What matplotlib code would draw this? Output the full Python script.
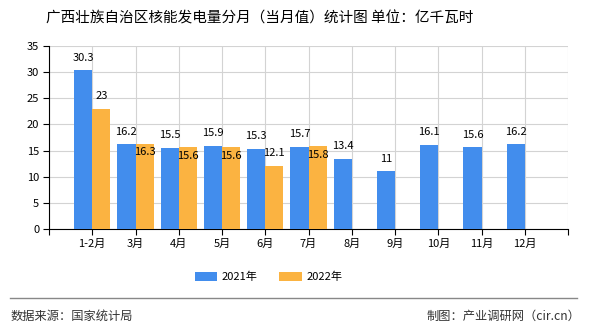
import matplotlib
matplotlib.use("Agg")
import matplotlib.pyplot as plt
import numpy as np

plt.rcParams['font.family'] = ['Noto Sans CJK SC', 'DejaVu Sans']

# data
months = ["1-2月", "3月", "4月", "5月", "6月", "7月", "8月", "9月", "10月", "11月", "12月"]
v2021 = [30.3, 16.2, 15.5, 15.9, 15.3, 15.7, 13.4, 11, 16.1, 15.6, 16.2]
v2022 = [23, 16.3, 15.6, 15.6, 12.1, 15.8]
yticks = [0, 5, 10, 15, 20, 25, 30, 35]

blue = "#428ded"
orange = "#fbb341"

fig = plt.figure(figsize=(5.9, 3.3), dpi=100)
ax = fig.add_axes([0.083, 0.306, 0.880, 0.555])

x = np.arange(1, len(months) + 1)
w = 0.42
ax.bar(x[:len(v2021)] - w / 2, v2021, w, color=blue, label="2021年", zorder=3)
ax.bar(x[:len(v2022)] + w / 2, v2022, w, color=orange, label="2022年", zorder=3)

def fmt(v):
    return ("%g" % v)

for xi, v in zip(x, v2021):
    ax.annotate(fmt(v), (xi - w / 2, v), xytext=(0, 9), textcoords="offset points",
                ha="center", va="center", fontsize=8, zorder=5)
for i, v in enumerate(v2022):
    # label pushed into the bar when it would collide with the 2021 label
    dy = 9 if abs(v2021[i] - v) > 3 else -6
    ax.annotate(fmt(v), (x[i] + w / 2, v), xytext=(0, dy), textcoords="offset points",
                ha="center", va="center", fontsize=8, zorder=5)

ax.set_xlim(0, len(months) + 1)
ax.set_ylim(0, 35)
ax.set_yticks(yticks)
ax.set_xticks(np.arange(0, len(months) + 2))
ax.set_xticklabels([""] + months + [""])
ax.tick_params(axis="both", labelsize=8, length=4, width=0.8, color="black", pad=3)
ax.grid(True, color="#d3d3d3", linewidth=0.8, zorder=0)
for s in ["top", "right"]:
    ax.spines[s].set_visible(False)
ax.spines["left"].set_color("black")
ax.spines["bottom"].set_color("black")
ax.spines["left"].set_linewidth(0.8)
ax.spines["bottom"].set_linewidth(0.8)

fig.text(0.44, 0.945, "广西壮族自治区核能发电量分月（当月值）统计图 单位：亿千瓦时",
         ha="center", va="center", fontsize=10.5)

fig.legend(loc="center", bbox_to_anchor=(0.455, 0.16), ncol=2, frameon=False,
           fontsize=8, handlelength=2.0, handleheight=0.8, columnspacing=2.0,
           handletextpad=0.4)

fig.add_artist(plt.Line2D([0.017, 0.978], [0.097, 0.097], color="#888888", linewidth=1.0))
fig.text(0.017, 0.042, "数据来源：国家统计局", ha="left", va="center", fontsize=8.8, color="#333333")
fig.text(0.983, 0.042, "制图：产业调研网（cir.cn）", ha="right", va="center", fontsize=8.8, color="#333333")

fig.savefig("out.png", dpi=100)
